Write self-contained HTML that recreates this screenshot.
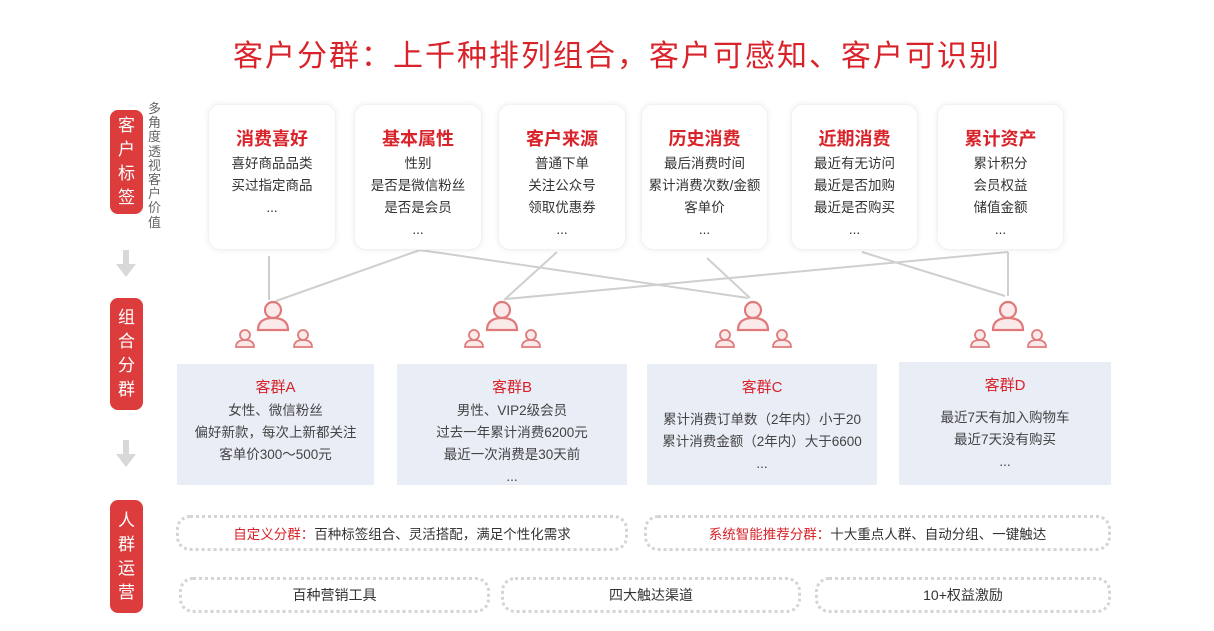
<!DOCTYPE html>
<html><head><meta charset="utf-8"><style>
*{margin:0;padding:0;box-sizing:border-box}
body{width:1214px;height:631px;background:#fff;position:relative;overflow:hidden;font-family:"Liberation Sans","Noto Sans CJK SC",sans-serif;color:#333}
.a{position:absolute}
.title{left:0;width:1214px;top:31px;text-align:center;font-size:30px;color:#d9232a;letter-spacing:2px;padding-left:20px}
.tag{background:#dc3c3c;color:#fff;border-radius:8px;width:33px;left:110px;font-size:17px;text-align:center;line-height:24px;display:flex;flex-direction:column;justify-content:center}
.card{background:#fff;border-radius:12px;box-shadow:0 0 6px rgba(0,0,0,.08);border:1px solid #f2f2f2;text-align:center;top:104px;height:146px}
.card h3{color:#d9232a;font-size:18px;margin-top:20px;margin-bottom:2px}
.card p{font-size:13.5px;line-height:22px;color:#333}
.grp{background:#e8edf6;text-align:center;top:364px;height:121px}
.grp h4{color:#d9232a;font-size:15px;font-weight:normal;margin-top:12px;margin-bottom:3px}
.grp p{font-size:13.5px;line-height:22px;color:#444}
.dot{border:3px dotted #d4d4d4;border-radius:14px;text-align:center;font-size:14px;color:#333;display:flex;align-items:center;justify-content:center}
</style></head><body>
<div class="a title">客户分群：上千种排列组合，客户可感知、客户可识别</div>

<div class="a tag" style="top:110px;height:104px">客<br>户<br>标<br>签</div>
<div class="a tag" style="top:298px;height:112px">组<br>合<br>分<br>群</div>
<div class="a tag" style="top:500px;height:113px">人<br>群<br>运<br>营</div>
<div class="a" style="left:148px;top:102px;width:14px;font-size:13px;line-height:14.2px;color:#666">多角度透视客户价值</div>

<svg class="a" style="left:0;top:0" width="1214" height="631">
<g fill="#d8d8d8">
<rect x="123" y="250" width="6" height="16"/><polygon points="116,264 136,264 126,277"/>
<rect x="123" y="440" width="6" height="16"/><polygon points="116,454 136,454 126,467"/>
</g>
<g stroke="#cfcfcf" stroke-width="2" fill="none">
<line x1="269" y1="256" x2="269" y2="300"/>
<line x1="420" y1="250" x2="276" y2="301"/>
<line x1="420" y1="250" x2="748" y2="298"/>
<line x1="557" y1="252" x2="504" y2="300"/>
<line x1="707" y1="258" x2="750" y2="298"/>
<line x1="862" y1="252" x2="1005" y2="296"/>
<line x1="1008" y1="252" x2="1008" y2="296"/>
<line x1="1008" y1="252" x2="506" y2="299"/>
</g>
<defs>
<g id="pb" fill="#fbeaea" stroke="#e07a7a" stroke-width="2.2">
<circle cx="0" cy="-8" r="8"/><path d="M-15,12 Q-15,0 0,0 Q15,0 15,12 Z"/>
</g>
<g id="ps" fill="#fbeaea" stroke="#e07a7a" stroke-width="1.8">
<circle cx="0" cy="-5" r="5"/><path d="M-9,7 Q-9,0 0,0 Q9,0 9,7 Z"/>
</g>
</defs>
<g><use href="#pb" x="273" y="318"/><use href="#ps" x="245" y="340"/><use href="#ps" x="303" y="340"/></g>
<g><use href="#pb" x="502" y="318"/><use href="#ps" x="474" y="340"/><use href="#ps" x="531" y="340"/></g>
<g><use href="#pb" x="753" y="318"/><use href="#ps" x="725" y="340"/><use href="#ps" x="782" y="340"/></g>
<g><use href="#pb" x="1008" y="318"/><use href="#ps" x="980" y="340"/><use href="#ps" x="1037" y="340"/></g>
</svg>

<div class="a card" style="left:208px;width:128px"><h3>消费喜好</h3><p>喜好商品品类<br>买过指定商品<br>...</p></div>
<div class="a card" style="left:354px;width:128px"><h3>基本属性</h3><p>性别<br>是否是微信粉丝<br>是否是会员<br>...</p></div>
<div class="a card" style="left:498px;width:128px"><h3>客户来源</h3><p>普通下单<br>关注公众号<br>领取优惠券<br>...</p></div>
<div class="a card" style="left:641px;width:127px"><h3>历史消费</h3><p>最后消费时间<br>累计消费次数/金额<br>客单价<br>...</p></div>
<div class="a card" style="left:791px;width:127px"><h3>近期消费</h3><p>最近有无访问<br>最近是否加购<br>最近是否购买<br>...</p></div>
<div class="a card" style="left:937px;width:127px"><h3>累计资产</h3><p>累计积分<br>会员权益<br>储值金额<br>...</p></div>

<div class="a grp" style="left:177px;width:197px"><h4>客群A</h4><p>女性、微信粉丝<br>偏好新款，每次上新都关注<br>客单价300～500元</p></div>
<div class="a grp" style="left:397px;width:230px"><h4>客群B</h4><p>男性、VIP2级会员<br>过去一年累计消费6200元<br>最近一次消费是30天前<br>...</p></div>
<div class="a grp" style="left:647px;width:230px"><h4>客群C</h4><p style="margin-top:12px">累计消费订单数（2年内）小于20<br>累计消费金额（2年内）大于6600<br>...</p></div>
<div class="a grp" style="left:899px;width:212px;top:362px;height:123px"><h4>客群D</h4><p style="margin-top:12px">最近7天有加入购物车<br>最近7天没有购买<br>...</p></div>

<div class="a dot" style="left:176px;top:515px;width:452px;height:36px;font-size:13.5px"><span style="color:#d9232a">自定义分群：</span>百种标签组合、灵活搭配，满足个性化需求</div>
<div class="a dot" style="left:644px;top:515px;width:467px;height:36px;font-size:13.5px"><span style="color:#d9232a">系统智能推荐分群：</span>十大重点人群、自动分组、一键触达</div>
<div class="a dot" style="left:179px;top:577px;width:311px;height:36px">百种营销工具</div>
<div class="a dot" style="left:501px;top:577px;width:300px;height:36px">四大触达渠道</div>
<div class="a dot" style="left:815px;top:577px;width:296px;height:36px">10+权益激励</div>
</body></html>
